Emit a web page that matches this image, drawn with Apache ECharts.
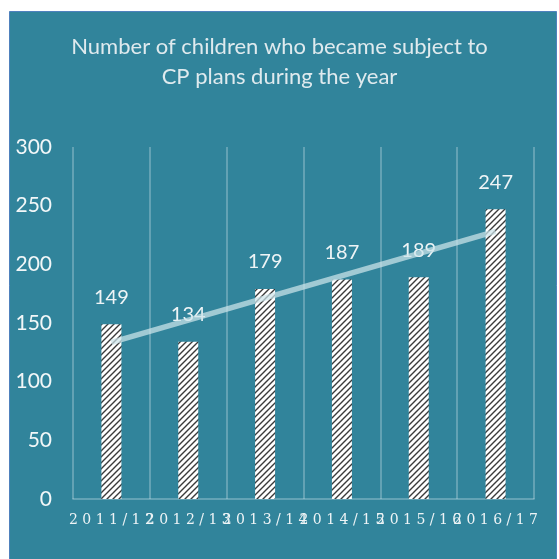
<!DOCTYPE html>
<html>
<head>
<meta charset="utf-8">
<script src="https://cdn.jsdelivr.net/npm/echarts@6/dist/echarts.min.js"></script>
<style>
html,body{margin:0;padding:0;background:#ffffff;}
#chart{width:559px;height:559px;}
</style>
</head>
<body>
<div id="chart"></div>
<script>
const categories = ['2011/12', '2012/13', '2013/14', '2014/15', '2015/16', '2016/17'];
const values = [149, 134, 179, 187, 189, 247];
// linear trendline endpoints (first and last category)
const trendValues = [133.5, null, null, null, null, 228];
const yTicks = [0, 50, 100, 150, 200, 250, 300];
const titleLines = ['Number of children who became subject to', 'CP plans during the year'];

function spaced(s) { return s.split('').join(' '); }

const pat = document.createElement('canvas');
pat.width = 6; pat.height = 6;
const c = pat.getContext('2d');
c.fillStyle = '#ffffff';
c.fillRect(0, 0, 6, 6);
c.strokeStyle = '#3a3a3a';
c.lineWidth = 1.4;
c.beginPath();
c.moveTo(-1, 7); c.lineTo(7, -1);
c.moveTo(-4, 4); c.lineTo(4, -4);
c.moveTo(2, 10); c.lineTo(10, 2);
c.stroke();

const chart = echarts.init(document.getElementById('chart'), null, { renderer: 'canvas' });
const gridColor = 'rgba(200,225,232,0.45)';
chart.setOption({
  animation: false,
  backgroundColor: '#ffffff',
  graphic: [{
    type: 'rect', z: -10, silent: true,
    shape: { x: 9.5, y: 11.5, width: 547, height: 560 },
    style: { fill: '#31849B', stroke: '#4f81bd', lineWidth: 1 }
  }],
  title: {
    text: titleLines.join('\n'),
    left: 'center',
    top: 27,
    textStyle: { color: '#dfeaee', fontFamily: 'Lato', fontWeight: 'normal', fontSize: 22, lineHeight: 30 }
  },
  grid: { left: 73, right: 25, top: 147, bottom: 60, containLabel: false },
  xAxis: {
    type: 'category',
    data: categories,
    axisLine: { show: true, lineStyle: { color: gridColor, width: 1.5 } },
    axisTick: { show: false },
    splitLine: { show: true, interval: 0, lineStyle: { color: gridColor, width: 1.5 } },
    axisLabel: {
      interval: 0, margin: 14, color: '#eef4f6',
      fontFamily: 'DejaVu Serif', fontSize: 14,
      formatter: v => spaced(v)
    }
  },
  yAxis: {
    type: 'value',
    min: yTicks[0], max: yTicks[yTicks.length - 1], interval: 50,
    axisLine: { show: false },
    axisTick: { show: false },
    splitLine: { show: false },
    axisLabel: { margin: 21, color: '#f2f7f8', fontFamily: 'Lato', fontSize: 21 }
  },
  series: [{
    type: 'bar',
    data: values,
    barWidth: 20,
    itemStyle: { color: { image: pat, repeat: 'repeat' } },
    label: {
      show: true, position: 'top', distance: 17,
      color: '#eef4f6', fontFamily: 'Lato', fontSize: 20
    },
    z: 2
  }, {
    type: 'line',
    data: trendValues,
    connectNulls: true,
    symbol: 'none',
    lineStyle: { color: 'rgba(205,228,234,0.72)', width: 5.5 },
    z: 3
  }]
});
</script>
</body>
</html>
